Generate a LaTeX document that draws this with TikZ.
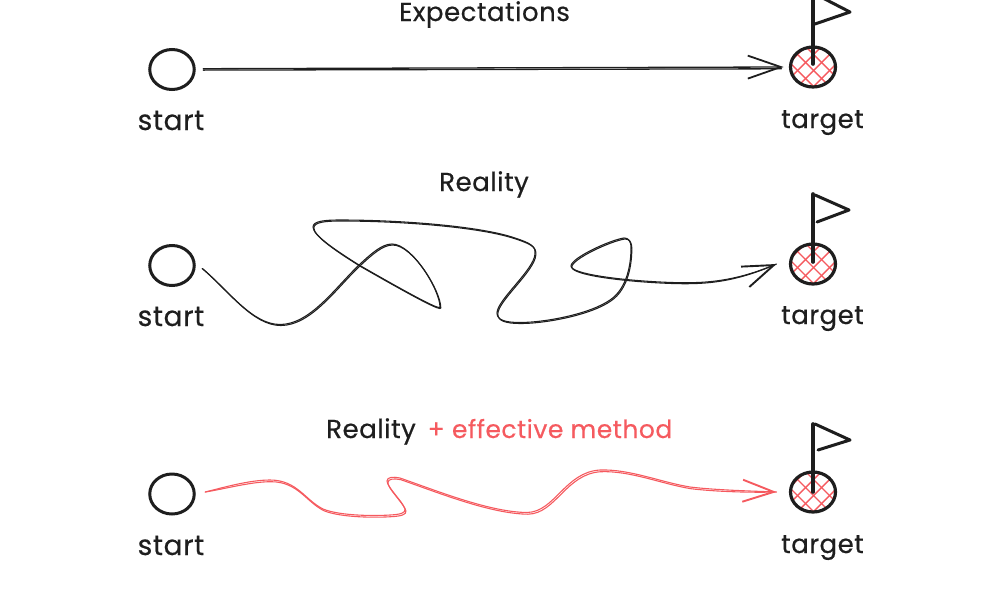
\documentclass[tikz,border=0pt]{standalone}
\usepackage{fontspec}
\setmainfont[LetterSpace=2,FakeBold=0.5]{Poppins}
\usetikzlibrary{arrows.meta,shapes.geometric}
\definecolor{ink}{HTML}{1E1E1E}
\definecolor{coral}{HTML}{F55A5F}
\tikzset{
  x=1pt,y=-1pt,
  lbl/.style={font=\fontsize{26}{30}\selectfont,text=ink,inner sep=0pt,anchor=base},
  startlbl/.style={lbl,font=\fontsize{28}{32}\selectfont},
  redlbl/.style={lbl,font=\fontsize{25}{30}\selectfont,text=coral},
  startnode/.style={ellipse,draw=ink,line width=3pt,minimum width=44.5pt,minimum height=40pt,inner sep=0pt,outer sep=8pt},
  targetnode/.style={ellipse,draw=ink,line width=3.2pt,minimum width=45pt,minimum height=40pt,inner sep=0pt,outer sep=8pt,
    path picture={
      \foreach \k in {-3,...,3}{
        \draw[coral,line width=1.4pt] ([shift={(\k*16-3-30,-30)}]path picture bounding box.center) -- ++(60,60);
        \draw[coral,line width=1.4pt] ([shift={(\k*16+4-30,30)}]path picture bounding box.center) -- ++(60,-60);
      }
    }},
  pole/.style={draw=ink,line width=3.6pt,line cap=round},
  flagtri/.style={draw=ink,line width=3pt,line join=round,line cap=round},
  sketch/.style={line width=1.1pt,line cap=round,line join=round},
  tip/.style={-{Straight Barb[length=31pt,width=22pt,line width=1.9pt]}},
}
\newcommand{\rowtwo}[1]{%
  ([shift={(0,3)}]s2.east) .. controls (228,290) and (252,324.5) .. (280,324.5)
  .. controls (310,324.5) and (335,288) .. (359,265)
  .. controls (372,253) and (382,244) .. (392,244)
  .. controls (412,244) and (440,290) .. (440,307)
  .. controls (440,310) and (420,300) .. (359,265)
  .. controls (335,250) and (313,235) .. (313,227)
  .. controls (313,221) and (325,220) .. (340,220)
  .. controls (400,220) and (480,226) .. (515,238)
  .. controls (530,243) and (536,246) .. (535,254)
  .. controls (534,270) and (497,300) .. (497,313)
  .. controls (497,320) and (505,322.5) .. (520,322.5)
  .. controls (545,322.5) and (590,314) .. (610,300)
  .. controls (628,288) and (631,262) .. (631,248)
  .. controls (631,240) and (628,238) .. (624,238)
  .. controls (610,240) and (571,258) .. (571,266)
  .. controls (571,274) and (620,280) .. (660,282)
  .. controls (700,284) and (730,283) .. ([xshift=-6pt]t2.west)}
\newcommand{\rowthree}[1]{%
  ([shift={(3,-2)}]s3.east) .. controls (225,487) and (250,480) .. (270,480)
  .. controls (297,480) and (305,500) .. (323,509)
  .. controls (340,516) and (375,516) .. (390,515)
  .. controls (400,514.5) and (406,513) .. (405,509)
  .. controls (403,502) and (387,487) .. (387,481)
  .. controls (387,477) and (393,476.5) .. (400,478)
  .. controls (440,492) and (490,512) .. (527,512.5)
  .. controls (555,512) and (565,472) .. (600,470)
  .. controls (630,469) and (660,482) .. (690,487)
  .. controls (715,490) and (750,491) .. ([xshift=-6pt]t3.west)}
\begin{document}
\begin{tikzpicture}
\useasboundingbox (0,0) rectangle (1000,600);
\clip (0,0) rectangle (1000,600);

% Row 1
\node[lbl] (h1) at (484.5,21) {Expectations};
\node[startnode] (s1) at (172,69.5) {};
\node[targetnode] (t1) at (813,67) {};
\node[startlbl] (l1a) at (171,130) {start};
\node[lbl] (l1b) at (822.5,128) {target};
\draw[pole] (t1.center) ++(0,-3) -- ++(0,-74);
\draw[flagtri] (815,-6) -- (850,12) -- (815,24);

% Row 2
\node[lbl] (h2) at (484,191) {Reality};
\node[startnode] (s2) at (172,265.5) {};
\node[targetnode] (t2) at (813,264) {};
\node[startlbl] (l2a) at (171,326) {start};
\node[lbl] (l2b) at (822.5,324) {target};
\draw[pole] (t2.center) ++(0,-2) -- (813,194);
\draw[flagtri] (815,195) -- (849,210) -- (817,222);

% Row 3
\node[lbl] (h3) at (371,438) {Reality};
\node[redlbl] (h3r) at (550,438) {+ effective method};
\node[startnode] (s3) at (172,494) {};
\node[targetnode] (t3) at (813,492) {};
\node[startlbl] (l3a) at (171,555) {start};
\node[lbl] (l3b) at (822.5,553) {target};
\draw[pole] (t3.center) -- (813,424);
\draw[flagtri] (815,424) -- (850,440) -- (818,450);

% Connectors
\draw[sketch,ink,line width=1.3pt,-{Straight Barb[length=33pt,width=23pt,line width=1.8pt]}] ([shift={(1,-0.8)}]s1.east) -- ([xshift=1pt]t1.west);
\draw[sketch,ink,line width=1.3pt] ([shift={(1,0.6)}]s1.east) -- ([shift={(-1,1.8)}]t1.west);

\draw[sketch,ink,tip] \rowtwo{};
\begin{scope}[shift={(0.8,1)}]
\draw[sketch,ink] \rowtwo{};
\end{scope}
\draw[sketch,coral,tip] \rowthree{};
\begin{scope}[shift={(0.9,1.7)}]
\draw[sketch,coral] \rowthree{};
\end{scope}
\end{tikzpicture}
\end{document}
